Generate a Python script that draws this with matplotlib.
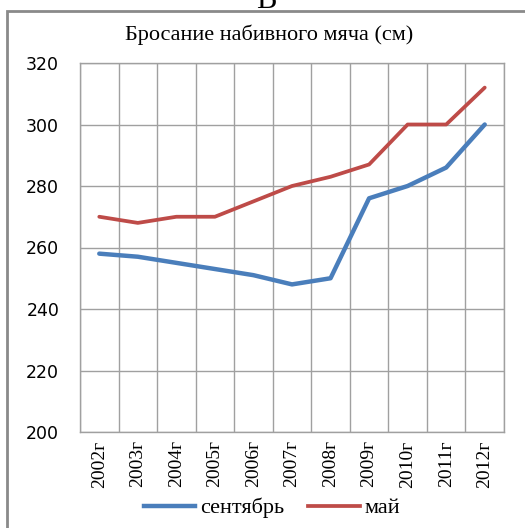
import matplotlib
matplotlib.use("Agg")
import matplotlib.pyplot as plt
from matplotlib.patches import Rectangle
from matplotlib.lines import Line2D

years = ["2002г", "2003г", "2004г", "2005г", "2006г", "2007г", "2008г", "2009г", "2010г", "2011г", "2012г"]
september = [258, 257, 255, 253, 251, 248, 250, 276, 280, 286, 300]
may = [270, 268, 270, 270, 275, 280, 283, 287, 300, 300, 312]
series_names = ["сентябрь", "май"]
title = "Бросание набивного мяча (см)"

blue = "#4A7EBB"
red = "#BE4B48"
grid_c = "#A0A0A0"

fig = plt.figure(figsize=(5.25, 5.28), dpi=100)
ax = fig.add_axes([80/525, 1-432/528, (504-80)/525, (432-63)/528])

x = list(range(len(years)))
ax.plot(x, september, color=blue, lw=3.2, solid_capstyle="round", zorder=3)
ax.plot(x, may, color=red, lw=2.7, solid_capstyle="round", zorder=3)

ax.set_xlim(-0.5, len(years) - 0.5)
ax.set_ylim(200, 320)
ax.set_yticks(range(200, 321, 20))
ax.set_xticks(x)
ax.set_xticklabels(years, rotation=90, family="Liberation Serif", fontsize=14)
for lab in ax.get_yticklabels():
    lab.set_family("DejaVu Sans")
    lab.set_fontsize(12.5)
ax.tick_params(axis="both", length=0)
ax.tick_params(axis="y", pad=15)
ax.tick_params(axis="x", pad=6)

# grid: horizontal at ticks, vertical at category boundaries
for yv in range(200, 321, 20):
    ax.axhline(yv, color=grid_c, lw=1.0, zorder=1)
for b in range(len(years) + 1):
    ax.axvline(b - 0.5, color=grid_c, lw=1.0, zorder=1)
for s in ax.spines.values():
    s.set_color(grid_c)
    s.set_linewidth(1.0)

fig.text(269/525, 1-35/528, title, ha="center", va="center",
         family="Liberation Serif", fontsize=16)

handles = [Line2D([0], [0], color=blue, lw=3.2),
           Line2D([0], [0], color=red, lw=2.7)]
leg = fig.legend(handles, series_names, loc="center", bbox_to_anchor=(272/525, 1-508/528),
                 ncol=2, frameon=False, prop={"family": "Liberation Serif", "size": 16},
                 handlelength=2.3, handletextpad=0.2, columnspacing=1.1)

# outer frame (left and top visible)
fig.patches.append(Rectangle((7/525, -0.05), 1.2, 1 - 11/528 + 0.05,
                             transform=fig.transFigure, fill=False,
                             edgecolor="#8A8A8A", lw=2.0))
fig.text(266/525, 1-8/528, "В", ha="center", va="baseline",
         family="Liberation Serif", fontsize=22)

fig.savefig("out.png", dpi=100)
